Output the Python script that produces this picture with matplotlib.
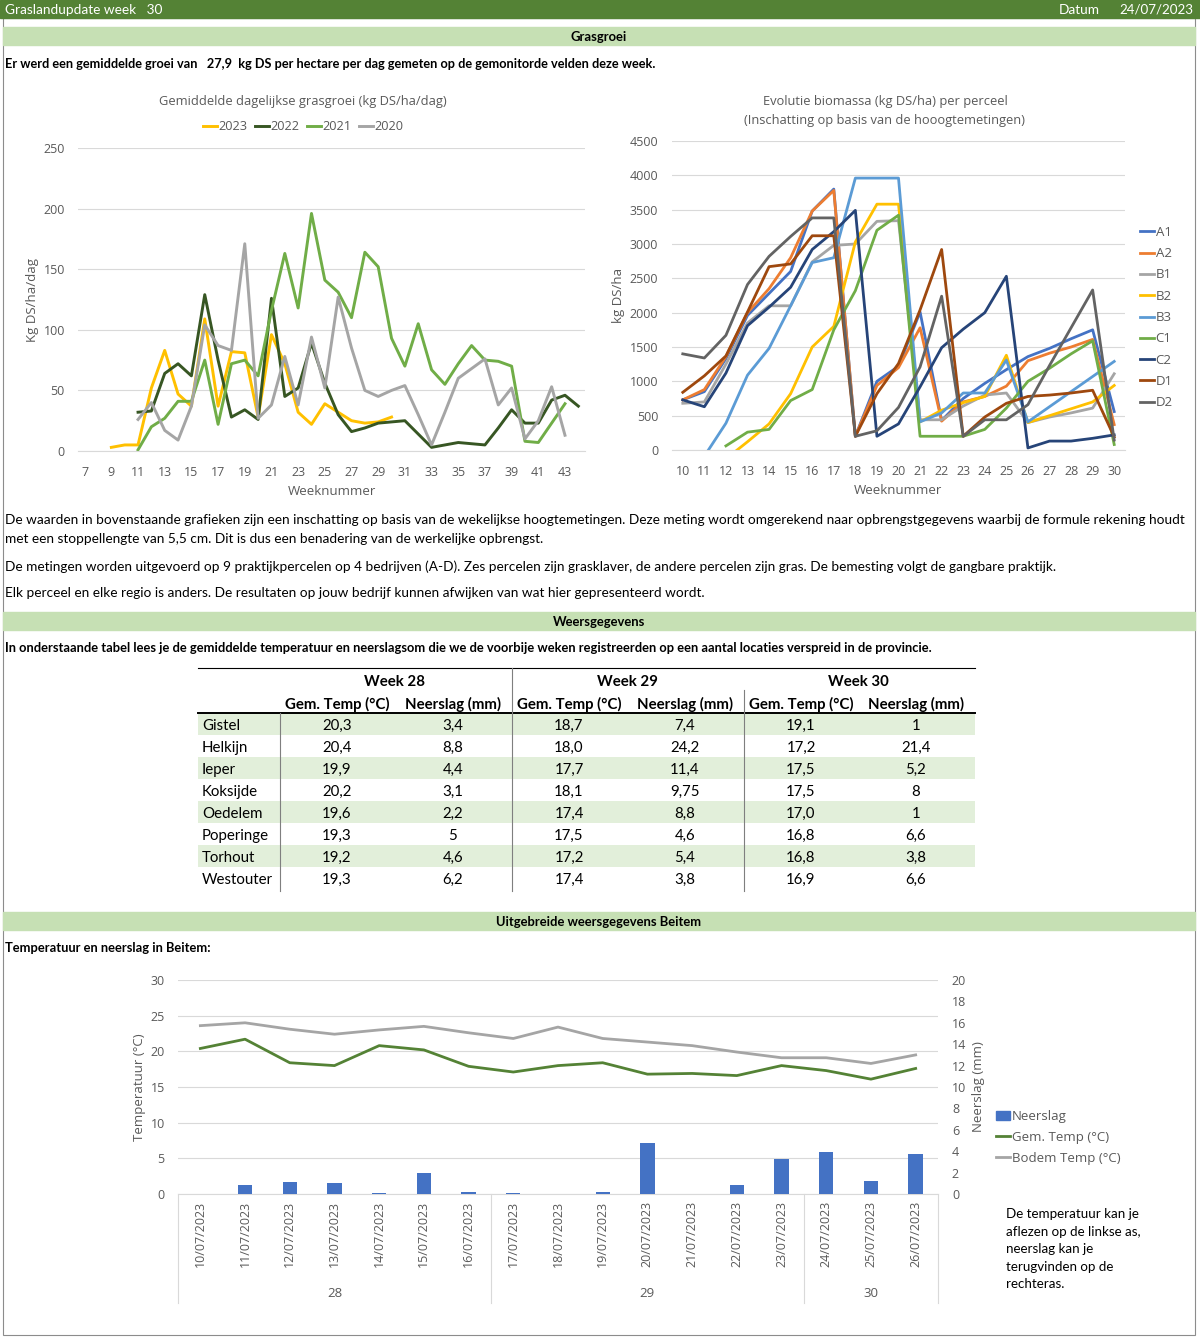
import numpy as np
import matplotlib
matplotlib.use("Agg")
import matplotlib.pyplot as plt
import matplotlib.transforms as mtransforms
from matplotlib.patches import Rectangle, Patch

W, H = 1200, 1339
SHEET_FONT = ['Lato', 'DejaVu Sans']
CHART_FONT = ['Open Sans', 'DejaVu Sans']
GREY_TXT = '#595959'
GRID = '#D9D9D9'

# ---- gemiddelde dagelijkse grasgroei (kg DS/ha/dag), eerste week + waarden
groei_jaren = ['2023', '2022', '2021', '2020']
groei_start = [9, 11, 11, 11]
groei_2023 = [3, 5, 5, 52, 83, 47, 37, 109, 37, 82, 81, 28, 96, 72, 32, 22, 39, 32, 25, 23, 24, 28]
groei_2022 = [32, 33, 64, 72, 62, 129, 75, 28, 34, 26, 126, 45, 52, 89, 56, 30, 16, 19, 23, 24, 25,
              14, 3, 5, 7, 6, 5, 19, 34, 23, 23, 42, 46, 37]
groei_2021 = [1, 20, 27, 41, 41, 75, 22, 72, 75, 62, 116, 163, 118, 196, 141, 131, 110, 164, 152, 93,
              70, 105, 67, 55, 72, 87, 75, 74, 70, 8, 7, 23, 39]
groei_2020 = [26, 40, 17, 9, 37, 104, 87, 83, 171, 27, 38, 78, 38, 94, 52, 127, 85, 50, 45, 50, 54,
              30, 5, 32, 60, 68, 76, 38, 52, 10, 25, 53, 13]
groei_kleur = ['#FFC000', '#375623', '#70AD47', '#A5A5A5']

# ---- biomassa per perceel (kg DS/ha), weken 10..30
bio_weken = list(range(10, 31))
percelen = ['A1', 'A2', 'B1', 'B2', 'B3', 'C1', 'C2', 'D1', 'D2']
nan = np.nan
bio_A1 = [730, 850, 1330, 1960, 2280, 2600, 3480, 3800, 200, 1000, 1220, 2010, 430, 750, 970, 1170, 1360, 1480, 1620, 1750, 560]
bio_A2 = [730, 880, 1360, 2000, 2350, 2800, 3480, 3780, 200, 940, 1200, 1780, 420, 700, 780, 930, 1300, 1410, 1500, 1610, 370]
bio_B1 = [680, 700, 1250, 1850, 2100, 2100, 2740, 2980, 3000, 3330, 3340, 440, 440, 640, 800, 830, 400, 480, 540, 610, 1110]
bio_B2 = [nan, nan, -130, 120, 380, 820, 1500, 1800, 3030, 3580, 3580, 410, 580, 690, 780, 1380, 400, 500, 600, 700, 940]
bio_B3 = [nan, -90, 390, 1090, 1480, 2100, 2730, 2800, 3960, 3960, 3960, 410, 540, 830, 830, 1310, 410, 630, 850, 1070, 1290]
bio_C1 = [nan, nan, 60, 260, 300, 720, 880, 1750, 2320, 3200, 3420, 200, 200, 200, 300, 610, 1000, 1190, 1400, 1590, 80]
bio_C2 = [730, 630, 1120, 1810, 2080, 2370, 2920, 3180, 3490, 200, 380, 920, 1490, 1760, 2000, 2530, 30, 130, 130, 170, 220]
bio_D1 = [840, 1080, 1370, 2010, 2670, 2710, 3120, 3120, 200, 820, 1260, 2040, 2920, 200, 480, 680, 780, 800, 830, 870, 190]
bio_D2 = [1400, 1340, 1670, 2410, 2820, 3110, 3380, 3380, 200, 280, 620, 1210, 2240, 200, 440, 440, 660, 1230, 1780, 2330, 145]
bio_kleur = ['#4472C4', '#ED7D31', '#A5A5A5', '#FFC000', '#5B9BD5', '#70AD47', '#264478', '#9E480E', '#636363']

# ---- weerstabel
locaties = ['Gistel', 'Helkijn', 'Ieper', 'Koksijde', 'Oedelem', 'Poperinge', 'Torhout', 'Westouter']
tabel_weken = [28, 29, 30]
temp_w28 = [20.3, 20.4, 19.9, 20.2, 19.6, 19.3, 19.2, 19.3]
neer_w28 = [3.4, 8.8, 4.4, 3.1, 2.2, 5, 4.6, 6.2]
temp_w29 = [18.7, 18.0, 17.7, 18.1, 17.4, 17.5, 17.2, 17.4]
neer_w29 = [7.4, 24.2, 11.4, 9.75, 8.8, 4.6, 5.4, 3.8]
temp_w30 = [19.1, 17.2, 17.5, 17.5, 17.0, 16.8, 16.8, 16.9]
neer_w30 = [1, 21.4, 5.2, 8, 1, 6.6, 3.8, 6.6]

# ---- weer Beitem
dagen = ['10/07/2023', '11/07/2023', '12/07/2023', '13/07/2023', '14/07/2023', '15/07/2023',
         '16/07/2023', '17/07/2023', '18/07/2023', '19/07/2023', '20/07/2023', '21/07/2023',
         '22/07/2023', '23/07/2023', '24/07/2023', '25/07/2023', '26/07/2023']
dag_week = [28, 28, 28, 28, 28, 28, 28, 29, 29, 29, 29, 29, 29, 29, 30, 30, 30]
gem_temp = [20.4, 21.7, 18.4, 18.0, 20.8, 20.2, 17.9, 17.1, 18.0, 18.4, 16.8, 16.9, 16.6, 18.0, 17.3, 16.1, 17.6]
bodem_temp = [23.6, 24.0, 23.1, 22.4, 23.0, 23.5, 22.6, 21.8, 23.4, 21.8, 21.3, 20.8, 19.9, 19.1, 19.1, 18.3, 19.5]
neerslag = [0, 0.8, 1.1, 1.0, 0.1, 2.0, 0.2, 0.1, 0, 0.2, 4.8, 0, 0.8, 3.3, 3.9, 1.2, 3.7]


def px_axes(x0, y0, x1, y1):
    return fig.add_axes([x0 / W, 1 - y1 / H, (x1 - x0) / W, (y1 - y0) / H])


def style_axes(ax):
    for s in ['top', 'right', 'left']:
        ax.spines[s].set_visible(False)
    ax.spines['bottom'].set_color(GRID)
    ax.yaxis.grid(True, color=GRID, lw=0.8)
    ax.set_axisbelow(True)
    ax.tick_params(length=0, labelcolor=GREY_TXT, labelsize=9)
    ax.tick_params(axis='y', pad=9.5)
    ax.tick_params(axis='x', pad=11)
    for lab in ax.get_xticklabels() + ax.get_yticklabels():
        lab.set_family(CHART_FONT)
    ax.set_facecolor('none')


def fmt(v, dec=None):
    s = f"{v:.{dec}f}" if dec is not None else f"{v:g}"
    return s.replace('.', ',')


fig = plt.figure(figsize=(W / 100, H / 100), dpi=100)
bg = fig.add_axes([0, 0, 1, 1])
bg.set_xlim(0, W)
bg.set_ylim(H, 0)
bg.axis('off')

# kaders en balken
bg.add_patch(Rectangle((3, 18), 1192, 1317, fill=False, ec='#8C8C8C', lw=0.8))
bg.add_patch(Rectangle((0, 0), W, 18, color='#548235'))
bg.text(5, 10, 'Graslandupdate week   30', color='white', va='center', fontsize=9.8, family=SHEET_FONT)
bg.text(1100, 10, 'Datum', color='white', va='center', ha='right', fontsize=9.8, family=SHEET_FONT)
bg.text(1193, 10, '24/07/2023', color='white', va='center', ha='right', fontsize=9.6, family=SHEET_FONT)
for y0, titel in [(27, 'Grasgroei'), (612, 'Weersgegevens'), (912, 'Uitgebreide weersgegevens Beitem')]:
    bg.add_patch(Rectangle((3, y0), 1192, 18, color='#C6E0B4'))
    bg.text(599, y0 + 10, titel, ha='center', va='center', fontsize=9.4, weight='bold', family=SHEET_FONT)

bg.text(5, 64, 'Er werd een gemiddelde groei van   27,9  kg DS per hectare per dag gemeten op de gemonitorde velden deze week.',
        va='center', fontsize=9.2, weight='bold', family=SHEET_FONT)
bg.text(5, 520, 'De waarden in bovenstaande grafieken zijn een inschatting op basis van de wekelijkse hoogtemetingen. '
        'Deze meting wordt omgerekend naar opbrengstgegevens waarbij de formule rekening houdt',
        va='center', fontsize=9.8, family=SHEET_FONT)
bg.text(5, 539, 'met een stoppellengte van 5,5 cm. Dit is dus een benadering van de werkelijke opbrengst.',
        va='center', fontsize=9.8, family=SHEET_FONT)
bg.text(5, 567, 'De metingen worden uitgevoerd op 9 praktijkpercelen op 4 bedrijven (A-D). Zes percelen zijn grasklaver, '
        'de andere percelen zijn gras. De bemesting volgt de gangbare praktijk.',
        va='center', fontsize=9.8, family=SHEET_FONT)
bg.text(5, 593, 'Elk perceel en elke regio is anders. De resultaten op jouw bedrijf kunnen afwijken van wat hier gepresenteerd wordt.',
        va='center', fontsize=9.8, family=SHEET_FONT)
bg.text(5, 648, 'In onderstaande tabel lees je de gemiddelde temperatuur en neerslagsom die we de voorbije weken '
        'registreerden op een aantal locaties verspreid in de provincie.',
        va='center', fontsize=9.3, weight='bold', family=SHEET_FONT)
bg.text(5, 948, 'Temperatuur en neerslag in Beitem:', va='center', fontsize=9.3, weight='bold', family=SHEET_FONT)

# ---- grafiek 1: grasgroei
ax1 = px_axes(78, 148, 585, 451)
for jaar, start, vals, kl in zip(groei_jaren, groei_start, [groei_2023, groei_2022, groei_2021, groei_2020], groei_kleur):
    weken = np.arange(start, start + len(vals))
    ax1.plot(weken, vals, color=kl, lw=2.1, label=jaar)
ax1.set_xlim(6.5, 44.5)
ax1.set_ylim(0, 250)
ax1.set_yticks(range(0, 251, 50))
ax1.set_xticks(range(7, 44, 2))
style_axes(ax1)
ax1.set_xlabel('Weeknummer', color=GREY_TXT, fontsize=9.5, family=CHART_FONT, labelpad=4)
ax1.set_ylabel('Kg DS/ha/dag', color=GREY_TXT, fontsize=9.5, family=CHART_FONT, labelpad=3)
bg.text(303, 102, 'Gemiddelde dagelijkse grasgroei (kg DS/ha/dag)', ha='center', va='center',
        color=GREY_TXT, fontsize=9.3, family=CHART_FONT)
ax1.legend(loc='center', bbox_to_anchor=(303 / W, 1 - 127 / H), bbox_transform=fig.transFigure, ncol=4,
           frameon=False, handlelength=1.1, handletextpad=0.1, columnspacing=0.6,
           prop={'family': CHART_FONT, 'size': 9.2}, labelcolor=GREY_TXT)

# ---- grafiek 2: biomassa
ax2 = px_axes(672, 141, 1125, 450)
for naam, vals, kl in zip(percelen, [bio_A1, bio_A2, bio_B1, bio_B2, bio_B3, bio_C1, bio_C2, bio_D1, bio_D2], bio_kleur):
    ax2.plot(bio_weken, vals, color=kl, lw=2, label=naam)
ax2.set_xlim(9.5, 30.5)
ax2.set_ylim(0, 4500)
ax2.set_yticks(range(0, 4501, 500))
ax2.set_xticks(bio_weken)
style_axes(ax2)
ax2.tick_params(axis='y', pad=10)
ax2.set_xlabel('Weeknummer', color=GREY_TXT, fontsize=9.5, family=CHART_FONT, labelpad=4)
ax2.set_ylabel('kg DS/ha', color=GREY_TXT, fontsize=9.5, family=CHART_FONT, labelpad=3)
bg.text(885, 111, 'Evolutie biomassa (kg DS/ha) per perceel\n(Inschatting op basis van de hooogtemetingen)',
        ha='center', va='center', color=GREY_TXT, fontsize=9.3, family=CHART_FONT, linespacing=1.55)
ax2.legend(loc='upper left', bbox_to_anchor=(1128 / W, 1 - 214 / H), bbox_transform=fig.transFigure,
           frameon=False, handlelength=1.1, handletextpad=0.1, labelspacing=0.63,
           prop={'family': CHART_FONT, 'size': 9.5}, labelcolor=GREY_TXT)

# ---- weertabel
tab_x0, tab_x1 = 198, 975
col_x = [337, 453, 569, 685, 801, 916]
rij_y0 = 724
rij_h = 22
kolommen = [temp_w28, neer_w28, temp_w29, neer_w29, temp_w30, neer_w30]
for i, loc in enumerate(locaties):
    yc = rij_y0 + i * rij_h
    if i % 2 == 0:
        bg.add_patch(Rectangle((tab_x0, yc - 11), tab_x1 - tab_x0, 22, color='#E2EFDA', lw=0))
    bg.text(202, yc + 2, loc, va='center', fontsize=10.8, family=SHEET_FONT)
    for j, kol in enumerate(kolommen):
        txt = fmt(kol[i], 1) if j % 2 == 0 else fmt(kol[i])
        bg.text(col_x[j], yc + 2, txt, ha='center', va='center', fontsize=10.8, family=SHEET_FONT)
for k, wk in enumerate(tabel_weken):
    bg.text((col_x[2 * k] + col_x[2 * k + 1]) / 2, 682, f'Week {wk}', ha='center', va='center',
            fontsize=10.8, weight='bold', family=SHEET_FONT)
    bg.text(col_x[2 * k], 704, 'Gem. Temp (°C)', ha='center', va='center', fontsize=10.8, weight='bold', family=SHEET_FONT)
    bg.text(col_x[2 * k + 1], 704, 'Neerslag (mm)', ha='center', va='center', fontsize=10.8, weight='bold', family=SHEET_FONT)
tab_y1 = rij_y0 + len(locaties) * rij_h - 11 + 2
bg.plot([tab_x0, tab_x1], [668, 668], color='black', lw=0.8)
bg.plot([tab_x0, tab_x1], [713, 713], color='black', lw=1.4)
bg.plot([280, 280], [713, tab_y1], color='#7F7F7F', lw=0.8)
bg.plot([512, 512], [668, tab_y1], color='#7F7F7F', lw=0.8)
bg.plot([744, 744], [690, tab_y1], color='#7F7F7F', lw=0.8)

# ---- grafiek 3: weer Beitem
ax3 = px_axes(178, 980, 938, 1194)
x = np.arange(len(dagen))
ax3b = ax3.twinx()
ax3b.bar(x, neerslag, width=0.32, color='#4472C4', label='Neerslag')
l1, = ax3.plot(x, gem_temp, color='#548235', lw=2, label='Gem. Temp (°C)')
l2, = ax3.plot(x, bodem_temp, color='#A5A5A5', lw=2, label='Bodem Temp (°C)')
ax3.set_xlim(-0.5, len(dagen) - 0.5)
ax3.set_ylim(0, 30)
ax3.set_yticks(range(0, 31, 5))
ax3b.set_ylim(0, 20)
ax3b.set_yticks(range(0, 21, 2))
ax3.set_xticks(x)
ax3.set_xticklabels(dagen, rotation=90, va='top')
style_axes(ax3)
for s in ax3b.spines.values():
    s.set_visible(False)
ax3b.tick_params(length=0, labelcolor=GREY_TXT, labelsize=9, pad=10)
for lab in ax3b.get_yticklabels():
    lab.set_family(CHART_FONT)
ax3.tick_params(axis='x', pad=5)
ax3.set_ylabel('Temperatuur (°C)', color=GREY_TXT, fontsize=9.5, family=CHART_FONT, labelpad=3)
ax3b.set_ylabel('Neerslag (mm)', color=GREY_TXT, fontsize=9.5, family=CHART_FONT, labelpad=4)

trans = mtransforms.blended_transform_factory(ax3.transData, ax3.transAxes)
grenzen = [-0.5]
for w in sorted(set(dag_week)):
    idx = [i for i, d in enumerate(dag_week) if d == w]
    ax3.text(np.mean(idx), -0.467, str(w), transform=trans, ha='center', va='center',
             color=GREY_TXT, fontsize=9.5, family=CHART_FONT)
    grenzen.append(idx[-1] + 0.5)
for g in grenzen:
    ax3.plot([g, g], [0, -0.51], transform=trans, color=GRID, lw=0.8, clip_on=False)

handles = [Patch(color='#4472C4', label='Neerslag'), l1, l2]
fig.legend(handles=handles, loc='upper left', bbox_to_anchor=(984 / W, 1 - 1098 / H),
           frameon=False, handlelength=1.1, handletextpad=0.1, labelspacing=0.6,
           prop={'family': CHART_FONT, 'size': 9.5}, labelcolor=GREY_TXT)
bg.text(1006, 1208, 'De temperatuur kan je\naflezen op de linkse as,\nneerslag kan je\nterugvinden op de\nrechteras.',
        va='top', fontsize=9.6, family=SHEET_FONT, linespacing=1.56)

fig.savefig('out.png', dpi=100)
